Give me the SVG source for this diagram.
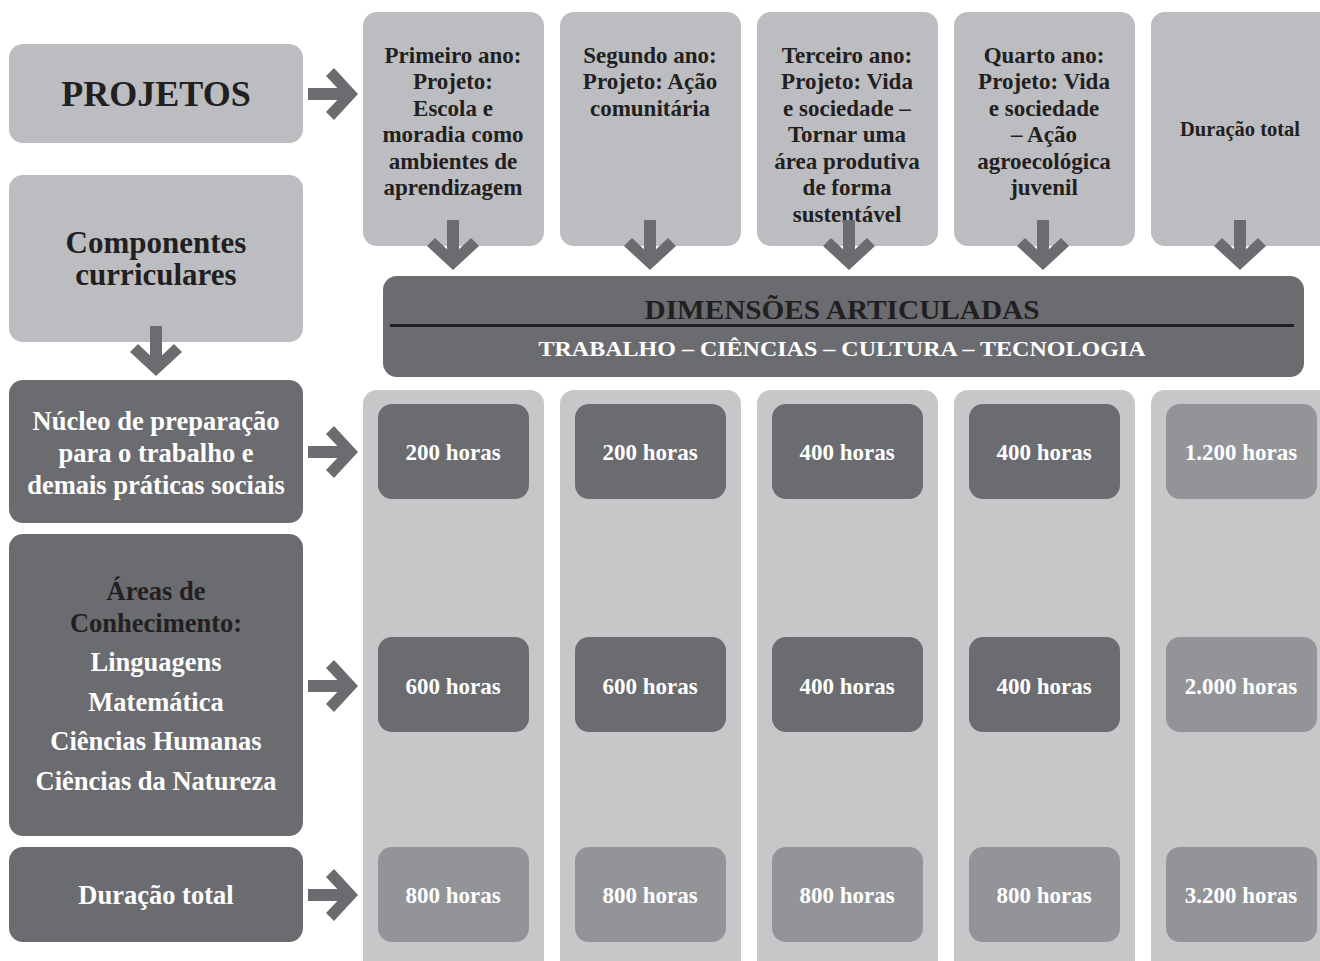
<svg xmlns="http://www.w3.org/2000/svg" width="1320" height="961" viewBox="0 0 1320 961">
<style>
.lt{fill:#bcbdc0}
.dk{fill:#6b6c70}
.md{fill:#939498}
.col{fill:#c6c7c9}
text{font-family:"Liberation Serif","DejaVu Serif",serif;font-weight:bold;text-anchor:middle}
.tb{fill:#231f20}
.tw{fill:#ffffff}
.t20{font-size:23px}
.t24{font-size:26.5px}
.h{font-size:23px;fill:#ffffff}
</style>
<defs>
<g id="arr">
<rect x="-50" y="-6" width="38" height="12" fill="#6b6c70"/>
<polygon points="-24,-26 0,0 -24,26 -32,18 -15,0 -32,-18" fill="#6b6c70"/>
</g>
</defs>
<rect width="1320" height="961" fill="#ffffff"/>
<g id="projetos"><rect class="lt" x="9" y="44" width="294" height="99" rx="14"/><text class="tb" x="156" y="106" font-size="36">PROJETOS</text></g>
<g id="componentes"><rect class="lt" x="9" y="175" width="294" height="167" rx="14"/><text class="tb" x="156" y="253" font-size="31">Componentes</text><text class="tb" x="156" y="285" font-size="31">curriculares</text></g>
<g id="nucleo"><rect class="dk" x="9" y="380" width="294" height="143" rx="14"/><text class="tw t24" x="156" y="430">Núcleo de preparação</text><text class="tw t24" x="156" y="462">para o trabalho e</text><text class="tw t24" x="156" y="494">demais práticas sociais</text></g>
<g id="areas"><rect class="dk" x="9" y="534" width="294" height="302" rx="14"/><text class="tb t24" x="156" y="600">Áreas de</text><text class="tb t24" x="156" y="632">Conhecimento:</text><text class="tw t24" x="156" y="671">Linguagens</text><text class="tw t24" x="156" y="711">Matemática</text><text class="tw t24" x="156" y="750">Ciências Humanas</text><text class="tw t24" x="156" y="790">Ciências da Natureza</text></g>
<g id="duracao"><rect class="dk" x="9" y="847" width="294" height="95" rx="14"/><text class="tw t24" x="156" y="904">Duração total</text></g>
<g id="ano1"><rect class="lt" x="363" y="12" width="181" height="234" rx="14"/><text class="tb t20" x="453" y="63">Primeiro ano:</text><text class="tb t20" x="453" y="89">Projeto:</text><text class="tb t20" x="453" y="116">Escola e</text><text class="tb t20" x="453" y="142">moradia como</text><text class="tb t20" x="453" y="169">ambientes de</text><text class="tb t20" x="453" y="195">aprendizagem</text></g>
<g id="ano2"><rect class="lt" x="560" y="12" width="181" height="234" rx="14"/><text class="tb t20" x="650" y="63">Segundo ano:</text><text class="tb t20" x="650" y="89">Projeto: Ação</text><text class="tb t20" x="650" y="116">comunitária</text></g>
<g id="ano3"><rect class="lt" x="757" y="12" width="181" height="234" rx="14"/><text class="tb t20" x="847" y="63">Terceiro ano:</text><text class="tb t20" x="847" y="89">Projeto: Vida</text><text class="tb t20" x="847" y="116">e sociedade –</text><text class="tb t20" x="847" y="142">Tornar uma</text><text class="tb t20" x="847" y="169">área produtiva</text><text class="tb t20" x="847" y="195">de forma</text><text class="tb t20" x="847" y="222">sustentável</text></g>
<g id="ano4"><rect class="lt" x="954" y="12" width="181" height="234" rx="14"/><text class="tb t20" x="1044" y="63">Quarto ano:</text><text class="tb t20" x="1044" y="89">Projeto: Vida</text><text class="tb t20" x="1044" y="116">e sociedade</text><text class="tb t20" x="1044" y="142">– Ação</text><text class="tb t20" x="1044" y="169">agroecológica</text><text class="tb t20" x="1044" y="195">juvenil</text></g>
<g id="total"><rect class="lt" x="1151" y="12" width="185" height="234" rx="14"/><text class="tb" x="1240" y="136" font-size="20.5">Duração total</text></g>
<g id="dimensoes"><rect class="dk" x="383" y="276" width="921" height="101" rx="14"/><text class="tb" x="842" y="319" font-size="28" textLength="395" lengthAdjust="spacingAndGlyphs">DIMENSÕES ARTICULADAS</text><rect x="390" y="324" width="904" height="3" fill="#231f20"/><text class="tw" x="842" y="356" font-size="22" textLength="607" lengthAdjust="spacingAndGlyphs">TRABALHO – CIÊNCIAS – CULTURA – TECNOLOGIA</text></g>
<g id="col1"><rect class="col" x="363" y="390" width="181" height="585" rx="14"/><rect class="dk" x="378" y="404" width="151" height="95" rx="14"/><text class="h" x="453" y="460">200 horas</text><rect class="dk" x="378" y="637" width="151" height="95" rx="14"/><text class="h" x="453" y="694">600 horas</text><rect class="md" x="378" y="847" width="151" height="95" rx="14"/><text class="h" x="453" y="903">800 horas</text></g>
<g id="col2"><rect class="col" x="560" y="390" width="181" height="585" rx="14"/><rect class="dk" x="575" y="404" width="151" height="95" rx="14"/><text class="h" x="650" y="460">200 horas</text><rect class="dk" x="575" y="637" width="151" height="95" rx="14"/><text class="h" x="650" y="694">600 horas</text><rect class="md" x="575" y="847" width="151" height="95" rx="14"/><text class="h" x="650" y="903">800 horas</text></g>
<g id="col3"><rect class="col" x="757" y="390" width="181" height="585" rx="14"/><rect class="dk" x="772" y="404" width="151" height="95" rx="14"/><text class="h" x="847" y="460">400 horas</text><rect class="dk" x="772" y="637" width="151" height="95" rx="14"/><text class="h" x="847" y="694">400 horas</text><rect class="md" x="772" y="847" width="151" height="95" rx="14"/><text class="h" x="847" y="903">800 horas</text></g>
<g id="col4"><rect class="col" x="954" y="390" width="181" height="585" rx="14"/><rect class="dk" x="969" y="404" width="151" height="95" rx="14"/><text class="h" x="1044" y="460">400 horas</text><rect class="dk" x="969" y="637" width="151" height="95" rx="14"/><text class="h" x="1044" y="694">400 horas</text><rect class="md" x="969" y="847" width="151" height="95" rx="14"/><text class="h" x="1044" y="903">800 horas</text></g>
<g id="col5"><rect class="col" x="1151" y="390" width="185" height="585" rx="14"/><rect class="md" x="1166" y="404" width="151" height="95" rx="14"/><text class="h" x="1241" y="460">1.200 horas</text><rect class="md" x="1166" y="637" width="151" height="95" rx="14"/><text class="h" x="1241" y="694">2.000 horas</text><rect class="md" x="1166" y="847" width="151" height="95" rx="14"/><text class="h" x="1241" y="903">3.200 horas</text></g>
<g id="connectors">
<use href="#arr" transform="translate(358,94)"/>
<use href="#arr" transform="translate(358,452)"/>
<use href="#arr" transform="translate(358,686)"/>
<use href="#arr" transform="translate(358,895)"/>
<use href="#arr" transform="translate(156,376) rotate(90)"/>
<use href="#arr" transform="translate(453,270) rotate(90)"/>
<use href="#arr" transform="translate(650,270) rotate(90)"/>
<use href="#arr" transform="translate(849,270) rotate(90)"/>
<use href="#arr" transform="translate(1043,270) rotate(90)"/>
<use href="#arr" transform="translate(1240,270) rotate(90)"/>
</g>
</svg>
